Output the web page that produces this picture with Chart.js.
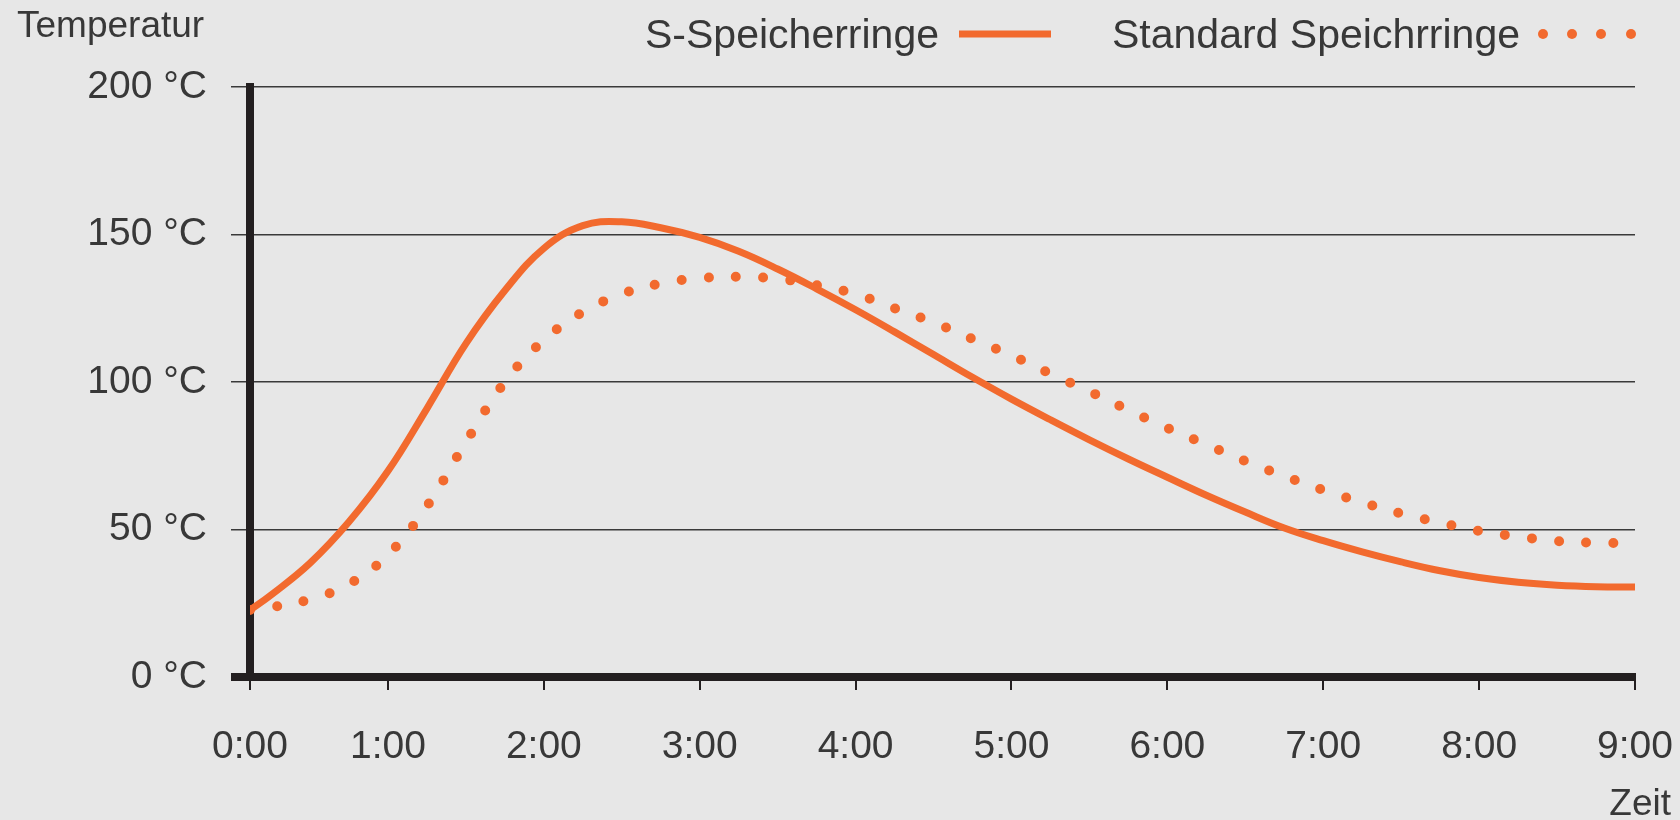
<html>
<head>
<meta charset="utf-8">
<title>Temperatur Speicherringe</title>
<script src="https://cdn.jsdelivr.net/npm/chart.js@4.4.1/dist/chart.umd.min.js"></script>
<style>
  body { margin: 0; background: #e7e7e7; }
  canvas { display: block; }
</style>
</head>
<body>
<canvas id="temp_chart" width="1680" height="820"></canvas>

<script>
  // values, one point every quarter hour.
  // the grid of the original starts at 0:00, its vertical axis (labelled 0:00)
  // sits slightly later, where both curves begin
  const startHour = 0.115;
  const hours = [startHour, 0.25, 0.5, 0.75, 1, 1.25, 1.5, 1.75, 2, 2.25, 2.5, 2.75, 3,
    3.25, 3.5, 3.75, 4, 4.25, 4.5, 4.75, 5, 5.25, 5.5, 5.75, 6, 6.25, 6.5, 6.75,
    7, 7.25, 7.5, 7.75, 8, 8.25, 8.5, 8.75, 9];
  const sRinge = [22.7, 27.8, 38.6, 52.6, 69.8, 91, 113, 131, 145.3, 153, 154.3, 152.3,
    149, 144.3, 138.3, 131.6, 124.5, 117, 109.3, 101.6, 94.2, 87.2, 80.4, 73.9, 67.7,
    61.6, 55.9, 50.5, 46.2, 42.4, 39, 36, 33.7, 32.1, 31.1, 30.6, 30.5];
  const standardRinge = [22.7, 23.6, 26.3, 31.5, 41.4, 57.9, 79.6, 100, 114.2, 123.7,
    129.8, 133.4, 135.2, 135.7, 135, 132.8, 129.8, 125, 120.2, 114.6, 109, 102.8, 96.8,
    90.5, 84.4, 78.8, 73.2, 68.1, 63.4, 59.2, 55.4, 52.3, 49.5, 47.6, 46.1, 45.5, 45.4];
  const xTickValues = [startHour, 1, 2, 3, 4, 5, 6, 7, 8, 9];
  const xTickLabels = ['0:00', '1:00', '2:00', '3:00', '4:00', '5:00', '6:00', '7:00', '8:00', '9:00'];
  const seriesNames = ['S-Speicherringe', 'Standard Speichrringe'];

  const orange = '#f26a2e';
  const dark = '#231f20';
  const textCol = '#383838';
  const fontFam = "'Liberation Sans', Arial, sans-serif";

  function toPoints(ys) {
    return hours.map((h, i) => ({ x: h, y: ys[i] }));
  }

  // legend and axis titles (the legend puts its sample after the text)
  const labelsPlugin = {
    id: 'labels',
    afterDraw(chart) {
      const ctx = chart.ctx;
      ctx.save();
      ctx.fillStyle = textCol;
      ctx.textBaseline = 'alphabetic';
      ctx.font = '37px ' + fontFam;
      ctx.textAlign = 'left';
      ctx.fillText('Temperatur', 17, 37);
      ctx.textAlign = 'right';
      ctx.fillText('Zeit', 1671, 815);
      ctx.font = '41px ' + fontFam;
      ctx.fillText(seriesNames[0], 939, 48);
      ctx.fillText(seriesNames[1], 1520, 48);

      ctx.strokeStyle = orange;
      ctx.lineWidth = 7;
      ctx.beginPath();
      ctx.moveTo(959, 34);
      ctx.lineTo(1051, 34);
      ctx.stroke();

      ctx.fillStyle = orange;
      [1543, 1572, 1601, 1631].forEach(x => {
        ctx.beginPath();
        ctx.arc(x, 34, 5, 0, Math.PI * 2);
        ctx.fill();
      });
      ctx.restore();
    }
  };

  const ctx = document.getElementById('temp_chart').getContext('2d');
  const chart = new Chart(ctx, {
    type: 'line',
    data: {
      datasets: [{
        label: seriesNames[0],
        data: toPoints(sRinge),
        borderColor: orange,
        borderWidth: 7,
        pointRadius: 0,
        tension: 0.4
      }, {
        label: seriesNames[1],
        data: toPoints(standardRinge),
        borderColor: orange,
        borderWidth: 10,
        borderDash: [0, 27.2],
        borderCapStyle: 'round',
        pointRadius: 0,
        tension: 0.4
      }]
    },
    options: {
      responsive: false,
      animation: false,
      devicePixelRatio: 1,
      layout: { padding: { top: 87, right: 45, left: 0, bottom: 0 } },
      plugins: {
        legend: { display: false },
        tooltip: { enabled: false }
      },
      scales: {
        x: {
          type: 'linear',
          min: startHour,
          max: 9,
          afterBuildTicks: (s) => { s.ticks = xTickValues.map(v => ({ value: v })); },
          afterFit: (s) => {
            s.height = 143;
            s.paddingLeft = 0;
            s.paddingRight = 0;
          },
          ticks: {
            callback: (v, i) => xTickLabels[i],
            font: { family: fontFam, size: 39 },
            color: textCol,
            padding: 34,
            maxRotation: 0,
            autoSkip: false
          },
          grid: {
            drawOnChartArea: false,
            drawTicks: true,
            tickLength: 13,
            lineWidth: 2,
            color: dark
          },
          border: { width: 8, color: dark }
        },
        y: {
          min: 0,
          max: 200,
          afterFit: (s) => {
            s.width = 250;
            s.paddingTop = 0;
            s.paddingBottom = 0;
          },
          ticks: {
            stepSize: 50,
            callback: (v) => v + ' °C',
            font: { family: fontFam, size: 39 },
            color: textCol,
            padding: 24
          },
          grid: {
            tickLength: 19,
            lineWidth: (c) => (c.tick && c.tick.value === 0) ? 8 : 1.5,
            color: (c) => (c.tick && c.tick.value === 0) ? dark : '#3a3a3a'
          },
          border: { width: 8, color: dark }
        }
      }
    },
    plugins: [labelsPlugin]
  });
</script>
</body>
</html>
